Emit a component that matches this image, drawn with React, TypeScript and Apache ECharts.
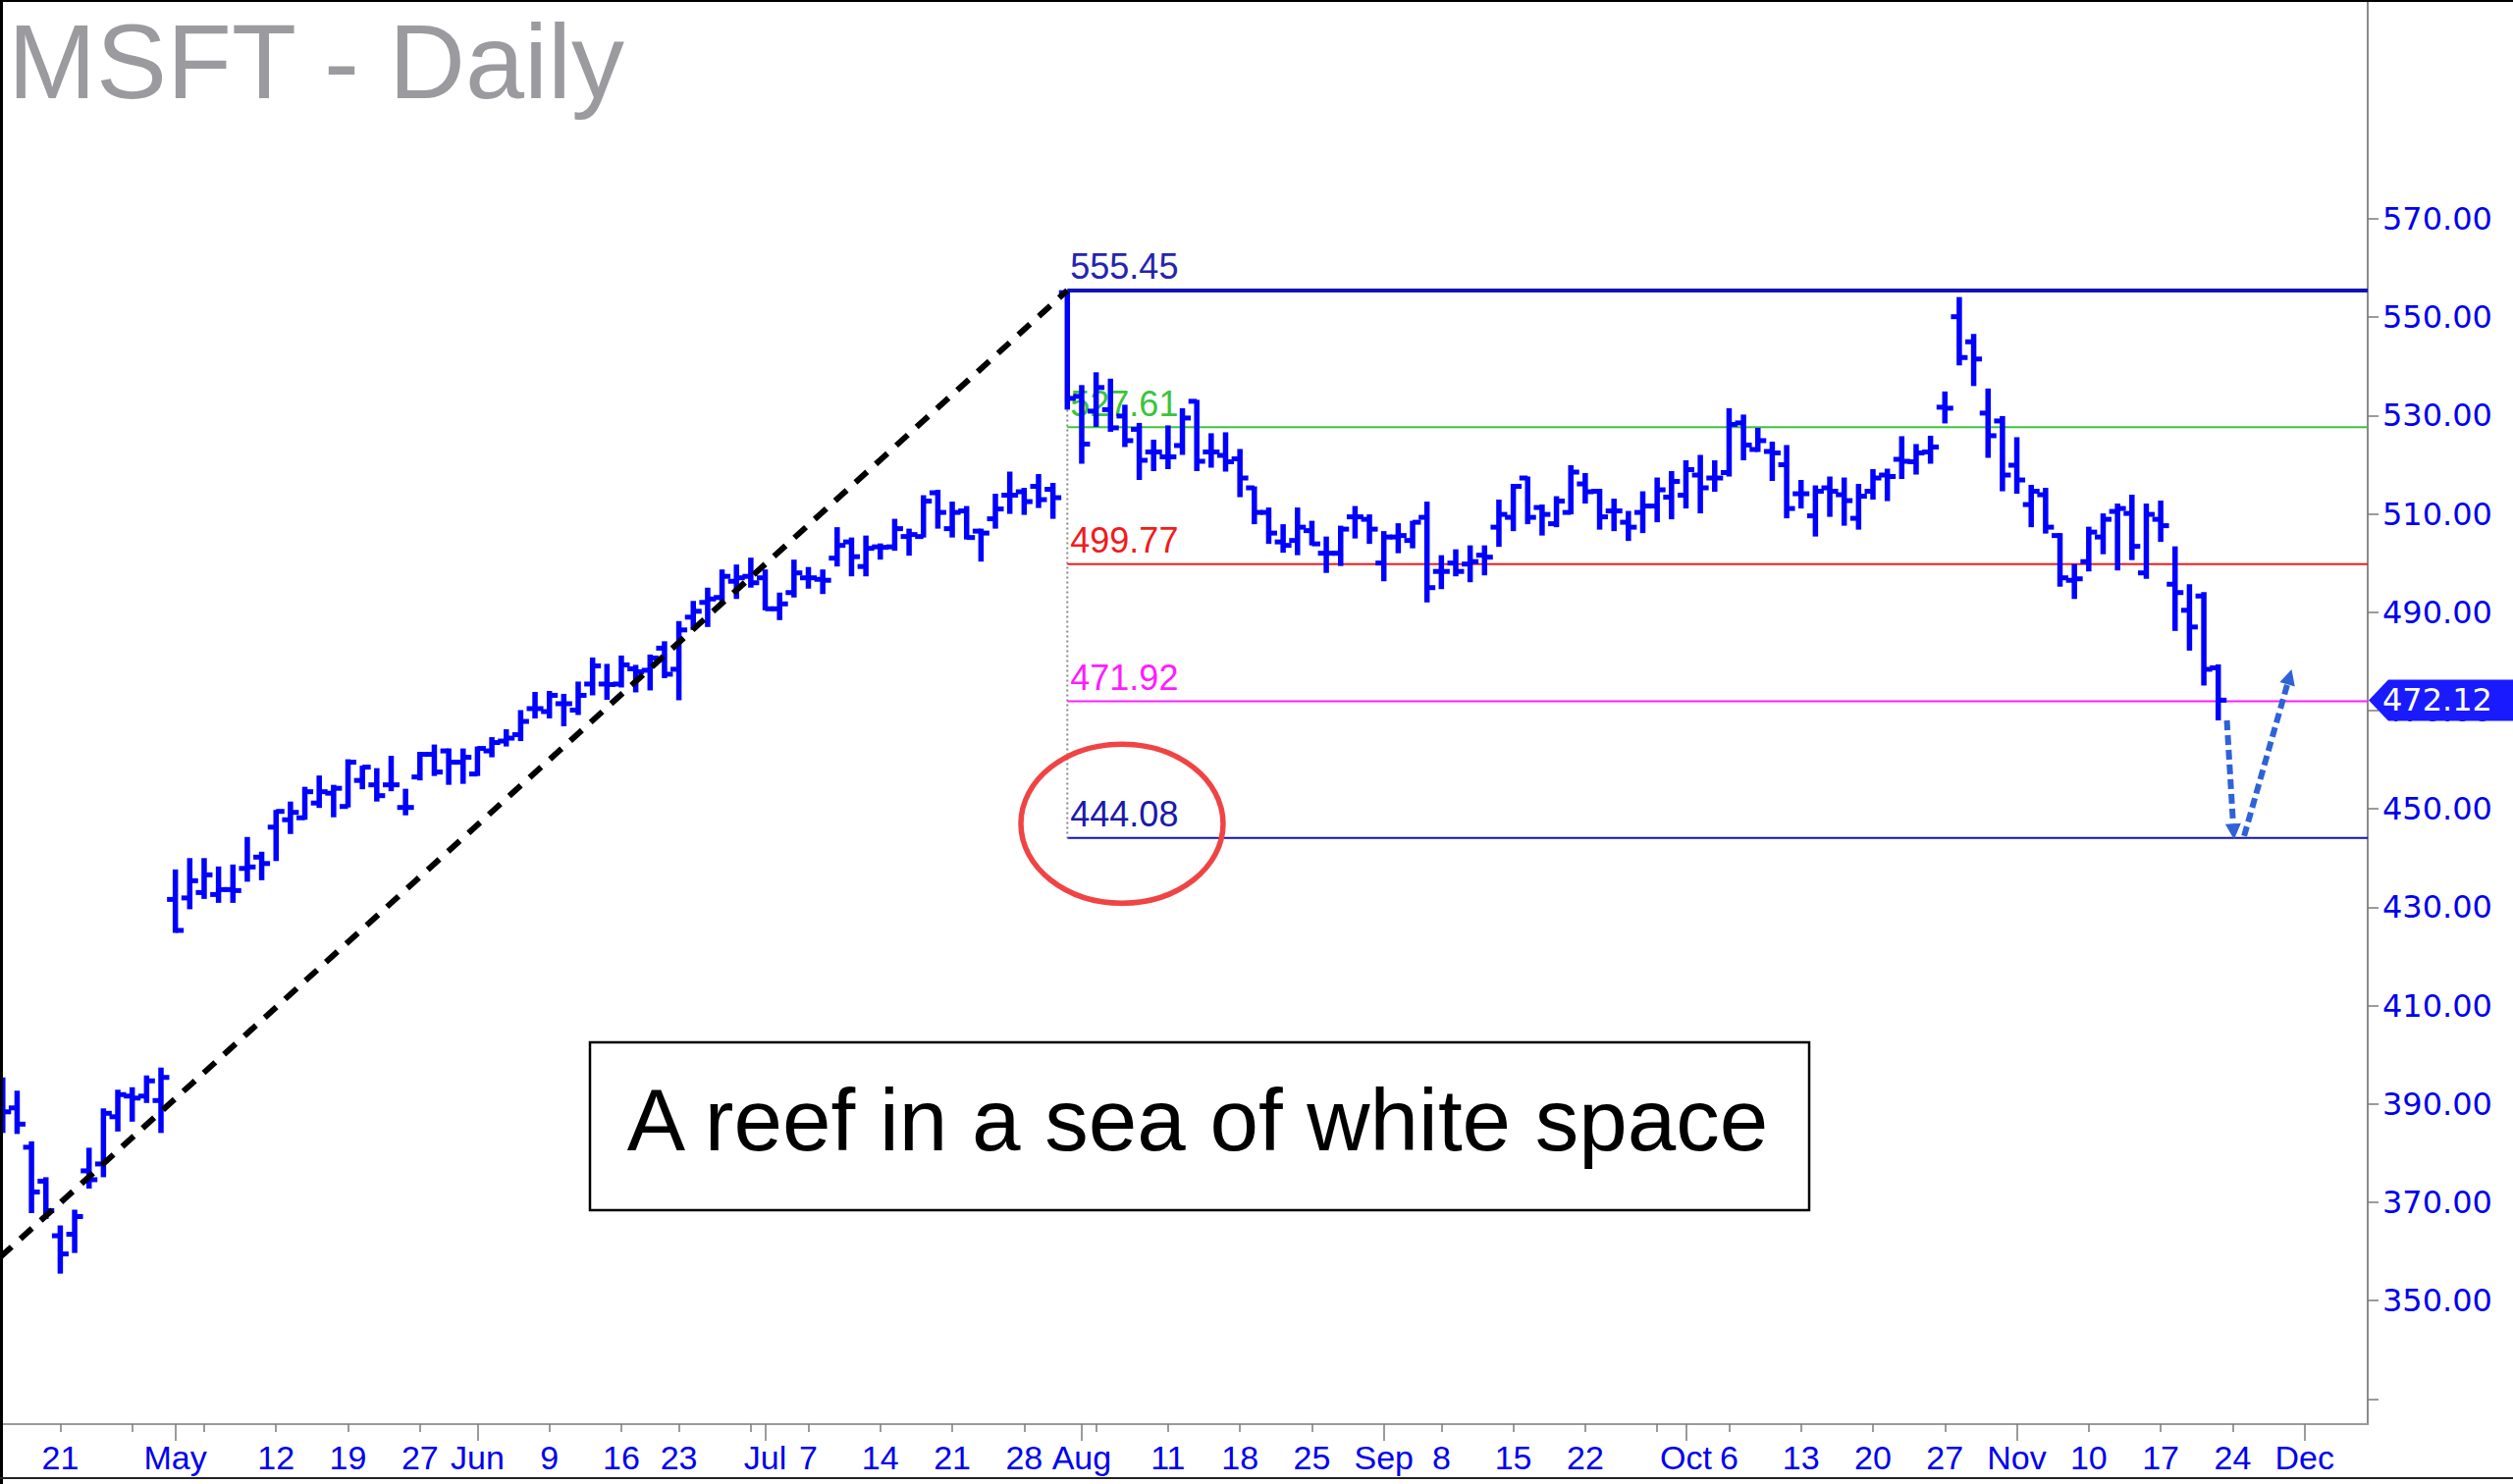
import React, { useEffect, useRef } from 'react';
import * as echarts from 'echarts';

// Trading-day numbering: Apr 21 2025 = 0 (holidays skipped). First bar = Apr 14 2025.
const FIRST_BAR_DAY = -4;

const opens = [
  393.0, 389.2, 381.2, 374.3, 363.2, 363.5, 376.4, 377.8, 387.4, 391.6, 391.6, 390.7,
  431.6, 431.9, 433.0, 432.6, 433.6, 437.9, 440.2, 446.3, 447.8, 448.2, 451.2, 453.2, 450.5, 455.8, 454.9, 454.9, 450.3, 456.5, 461.1, 461.8, 459.5, 457.1, 461.8, 463.8, 465.1, 470.4, 469.8, 471.4,
  470.1, 475.4, 475.4, 475.4, 478.5, 478.2, 482.7, 478.4, 489.0, 492.0, 493.0, 496.3, 497.3, 497.0, 490.7, 494.0, 497.0, 496.7, 501.0, 504.3, 499.3, 503.3, 503.3, 505.4, 505.4, 514.3, 507.0, 510.6, 506.5, 509.0, 513.8, 514.5, 515.6, 515.0,
  555.0, 533.9, 530.9, 531.2, 529.9, 527.2, 522.6, 521.6, 523.9, 532.9, 522.6, 521.9, 521.2, 515.3, 510.3, 504.3, 504.6, 506.6, 502.0, 502.0, 509.4, 508.9, 500.0, 505.3, 504.6, 509.3, 498.3, 500.0, 499.8, 501.6, 507.3, 509.3, 517.3, 511.3,
  508.0, 510.3, 516.1, 514.6, 510.6, 508.3, 510.3, 511.6, 513.4, 513.8, 517.9, 517.3, 518.4, 528.5, 523.1, 522.7, 520.0, 514.1, 509.6, 515.3, 513.9, 509.1, 514.6, 517.9, 521.1, 520.6, 522.6, 531.7, 550.1, 545.0, 530.5, 528.9, 519.9, 511.9, 513.9, 505.6, 496.5, 500.3, 505.3, 510.5, 510.1, 498.0, 508.9, 495.7, 490.4, 493.3, 478.7,
];
const highs = [
  395.4, 392.7, 382.4, 375.1, 365.3, 368.5, 381.1, 389.1, 392.9, 393.4, 395.8, 397.4,
  437.7, 440.0, 440.0, 438.3, 438.7, 444.3, 441.3, 449.8, 451.5, 454.5, 456.8, 454.9, 460.1, 458.8, 458.3, 460.8, 454.1, 461.6, 463.1, 462.3, 462.3, 462.7, 464.6, 466.2, 470.1, 473.8, 474.0, 473.4,
  475.9, 480.8, 479.5, 481.2, 479.3, 481.4, 484.1, 488.2, 492.3, 495.0, 498.7, 499.7, 501.1, 498.7, 494.0, 500.7, 499.2, 498.7, 507.3, 505.2, 505.6, 504.0, 509.0, 507.0, 513.8, 514.9, 512.5, 511.6, 507.0, 514.1, 518.6, 515.3, 518.1, 516.3,
  555.45, 536.2, 538.8, 537.5, 532.2, 528.5, 525.1, 528.0, 531.5, 533.2, 526.4, 526.6, 523.2, 515.6, 511.3, 507.9, 511.3, 508.6, 505.4, 507.6, 511.6, 509.9, 506.5, 508.1, 508.6, 512.5, 501.6, 502.8, 503.6, 503.6, 512.9, 516.1, 517.6, 511.9,
  513.6, 519.9, 518.3, 515.1, 513.1, 510.6, 514.6, 517.4, 518.7, 520.9, 522.0, 520.9, 531.5, 530.2, 527.5, 524.7, 524.0, 516.9, 515.8, 517.6, 517.4, 516.1, 519.1, 519.2, 525.8, 524.2, 525.9, 534.9, 554.1, 546.6, 535.5, 529.9, 525.6, 515.9, 515.3, 506.1, 499.8, 507.4, 510.1, 512.1, 513.9, 512.1, 512.7, 503.4, 495.7, 494.1, 479.4,
];
const lows = [
  384.1, 383.9, 367.8, 366.6, 355.5, 359.7, 372.8, 375.1, 384.4, 386.4, 390.2, 384.1,
  424.8, 429.6, 431.7, 430.9, 430.9, 435.2, 435.5, 439.4, 444.9, 447.8, 450.2, 448.3, 450.3, 454.0, 451.5, 453.6, 448.7, 455.8, 456.7, 454.9, 455.1, 456.7, 460.5, 462.7, 463.8, 468.4, 468.4, 466.8,
  469.1, 473.1, 472.2, 474.7, 473.7, 474.1, 476.6, 472.1, 486.4, 487.0, 492.0, 492.7, 495.0, 490.4, 488.4, 493.0, 494.8, 493.7, 499.3, 497.3, 497.3, 500.7, 502.5, 501.5, 505.2, 507.0, 505.2, 504.8, 500.3, 507.0, 510.0, 509.8, 511.2, 509.0,
  531.2, 520.2, 527.7, 526.7, 523.6, 516.9, 518.7, 519.1, 522.0, 518.7, 519.4, 518.6, 513.4, 507.9, 503.9, 502.1, 501.6, 503.6, 498.0, 499.4, 505.0, 503.9, 496.3, 502.0, 503.0, 492.0, 494.7, 497.3, 496.1, 497.5, 503.3, 506.5, 507.9, 505.6,
  507.3, 509.9, 512.1, 506.8, 506.5, 504.5, 506.1, 508.3, 508.9, 511.1, 510.1, 514.5, 517.6, 520.9, 522.6, 516.7, 509.1, 511.1, 505.4, 509.4, 507.6, 506.8, 512.9, 512.6, 517.1, 518.0, 520.2, 528.4, 540.2, 536.0, 521.4, 514.6, 514.1, 507.3, 506.0, 495.2, 492.7, 498.3, 501.8, 498.5, 500.6, 496.8, 504.3, 486.2, 482.2, 475.1, 468.0,
];
const closes = [
  388.4, 385.9, 372.1, 368.3, 359.5, 367.1, 374.6, 388.1, 391.9, 391.2, 394.7, 395.4,
  425.3, 435.4, 436.6, 433.6, 433.4, 438.2, 438.9, 449.5, 449.3, 453.5, 453.5, 454.2, 459.5, 458.5, 452.7, 454.9, 450.3, 461.1, 457.5, 459.5, 460.5, 462.3, 463.5, 464.4, 467.8, 470.4, 473.1, 471.4,
  473.1, 479.1, 475.3, 479.3, 477.9, 480.7, 477.4, 486.4, 490.2, 492.7, 497.3, 497.0, 496.0, 490.7, 491.7, 498.0, 497.0, 496.5, 503.6, 501.3, 503.0, 503.2, 507.0, 505.8, 512.6, 510.3, 510.3, 505.2, 506.1, 511.0, 513.8, 512.5, 512.9, 513.3,
  533.5, 524.2, 535.7, 527.5, 524.9, 520.9, 522.6, 521.6, 529.5, 520.7, 522.6, 520.6, 517.3, 510.3, 506.1, 503.6, 507.3, 503.9, 502.0, 506.9, 509.4, 506.9, 505.3, 505.6, 508.3, 495.0, 498.3, 498.3, 500.3, 501.2, 509.9, 515.6, 509.3, 509.9,
  512.6, 518.5, 514.5, 509.4, 510.6, 507.3, 511.6, 514.9, 516.6, 519.0, 515.3, 517.3, 528.2, 524.0, 524.9, 522.4, 511.1, 514.1, 514.6, 514.6, 512.7, 513.6, 517.3, 517.6, 520.7, 522.4, 523.6, 531.5, 541.8, 541.5, 525.9, 517.9, 516.9, 514.6, 507.3, 497.0, 496.8, 506.3, 508.9, 511.1, 503.4, 509.9, 507.6, 494.0, 487.0, 478.4, 472.12,
];

// x-axis ticks (trading-day numbers) and their labels
const weekTickDays = [0, 5, 10, 15, 20, 25, 34, 39, 43, 48, 52, 57, 62, 67, 72, 77, 82, 87, 96, 101, 106, 111, 116, 121, 126, 131, 141, 146, 151];
const weekTickLabels = ['21', '', '', '12', '19', '27', '9', '16', '23', '', '7', '14', '21', '28', '', '11', '18', '25', '8', '15', '22', '', '6', '13', '20', '27', '10', '17', '24'];
const monthTickDays = [8, 29, 49, 71, 92, 113, 136, 156];
const monthTickLabels = ['May', 'Jun', 'Jul', 'Aug', 'Sep', 'Oct', 'Nov', 'Dec'];

// y-axis ticks / labels
const priceTicks = [330, 350, 370, 390, 410, 430, 450, 470, 490, 510, 530, 550, 570];
const priceLabels = [350, 370, 390, 410, 430, 450, 470, 490, 510, 530, 550, 570];

// annotation levels
const levelPrices = [555.45, 527.61, 499.77, 471.92, 444.08];
const levelLineColors = ['#1212b8', '#3cc43c', '#f01c1c', '#ff1cff', '#1212b8'];
const levelTextColors = ['#2424b0', '#3cc43c', '#f01c1c', '#ff1cff', '#1a1aa8'];
const levelWidths = [4, 2, 2, 2, 2];
const levelStartDay = 70;
const lastPrice = 472.12;
const trendStart = [-4.19, 358.8];
const trendEnd = [70, 555.45];
const arrowDown = [[150.6, 468.0], [151.1, 443.8]];
const arrowUp = [[151.8, 444.5], [155.1, 478.4]];
const circleCenter = [73.8, 447.0];

const X_MIN = -4.19;
const X_MAX = 160.39;
const Y_MIN = 324.89;
const Y_MAX = 614.51;

const BAR_COLOR = '#0000ff';
const FONT = '"Liberation Sans", Arial, Helvetica, sans-serif';
const WIDE_FONT = '"DejaVu Sans", Verdana, sans-serif';

function arrowParts(p1: number[], p2: number[], color: string) {
  const dx = p2[0] - p1[0];
  const dy = p2[1] - p1[1];
  const len = Math.hypot(dx, dy) || 1;
  const ux = dx / len;
  const uy = dy / len;
  const head = 16;
  const half = 8;
  const bx = p2[0] - ux * head;
  const by = p2[1] - uy * head;
  return [
    { type: 'line', shape: { x1: p1[0], y1: p1[1], x2: bx, y2: by }, style: { stroke: color, lineWidth: 6, lineDash: [10, 5] } },
    {
      type: 'polygon',
      shape: { points: [[p2[0], p2[1]], [bx - uy * half, by + ux * half], [bx + uy * half, by - ux * half]] },
      style: { fill: color },
    },
  ];
}

export default function App() {
  const ref = useRef<HTMLDivElement>(null);

  useEffect(() => {
    if (!ref.current) return;
    const chart = echarts.init(ref.current, undefined, { renderer: 'svg' });

    const barData = opens.map((o, i) => [FIRST_BAR_DAY + i, o, highs[i], lows[i], closes[i]]);

    const renderBar = (params: any, api: any) => {
      const x = api.value(0);
      const pO = api.coord([x, api.value(1)]);
      const pH = api.coord([x, api.value(2)]);
      const pL = api.coord([x, api.value(3)]);
      const pC = api.coord([x, api.value(4)]);
      const tick = 8.5;
      const w = 5.5;
      return {
        type: 'group',
        children: [
          { type: 'line', shape: { x1: pH[0], y1: pH[1], x2: pL[0], y2: pL[1] }, style: { stroke: BAR_COLOR, lineWidth: w } },
          { type: 'line', shape: { x1: pO[0] - tick, y1: pO[1], x2: pO[0], y2: pO[1] }, style: { stroke: BAR_COLOR, lineWidth: 5 } },
          { type: 'line', shape: { x1: pC[0], y1: pC[1], x2: pC[0] + tick, y2: pC[1] }, style: { stroke: BAR_COLOR, lineWidth: 5 } },
        ],
      };
    };

    const renderLevels = (params: any, api: any) => {
      if (params.dataIndex !== 0) return null;
      const children: any[] = [];
      levelPrices.forEach((p, i) => {
        const a = api.coord([levelStartDay, p]);
        const b = api.coord([X_MAX, p]);
        children.push({
          type: 'line',
          shape: { x1: a[0], y1: a[1], x2: b[0], y2: b[1] },
          style: { stroke: levelLineColors[i], lineWidth: levelWidths[i] },
        });
        children.push({
          type: 'text',
          x: a[0] + 3,
          y: a[1] - 24,
          style: {
            text: p.toFixed(2),
            fill: levelTextColors[i],
            fontSize: 36,
            fontFamily: FONT,
            align: 'left',
            verticalAlign: 'middle',
          },
        });
      });
      // dotted vertical from the bar low down to the lowest level
      const top = api.coord([levelStartDay, lows[levelStartDay - FIRST_BAR_DAY]]);
      const bot = api.coord([levelStartDay, levelPrices[levelPrices.length - 1]]);
      children.push({
        type: 'line',
        shape: { x1: top[0], y1: top[1], x2: bot[0], y2: bot[1] },
        style: { stroke: '#8a8a8a', lineWidth: 2, lineDash: [2, 3] },
      });
      return { type: 'group', children };
    };

    const renderOverlay = (params: any, api: any) => {
      if (params.dataIndex !== 0) return null;
      const children: any[] = [];
      const t1 = api.coord(trendStart);
      const t2 = api.coord(trendEnd);
      children.push({
        type: 'line',
        shape: { x1: t1[0], y1: t1[1], x2: t2[0], y2: t2[1] },
        style: { stroke: '#000000', lineWidth: 6, lineDash: [16, 12] },
      });
      const arrowColor = '#2f62d8';
      children.push(...arrowParts(api.coord(arrowDown[0]), api.coord(arrowDown[1]), arrowColor));
      children.push(...arrowParts(api.coord(arrowUp[0]), api.coord(arrowUp[1]), arrowColor));
      const c = api.coord(circleCenter);
      children.push({
        type: 'ellipse',
        shape: { cx: c[0], cy: c[1], rx: 103, ry: 81 },
        style: { fill: 'none', stroke: '#f04444', lineWidth: 5.5 },
      });
      // last price tag on the axis
      const tp = api.coord([X_MAX, lastPrice]);
      const x0 = tp[0] + 1;
      const y0 = tp[1];
      children.push({
        type: 'polygon',
        shape: { points: [[x0, y0], [x0 + 20, y0 - 21], [x0 + 160, y0 - 21], [x0 + 160, y0 + 21], [x0 + 20, y0 + 21]] },
        style: { fill: '#1a1aff' },
      });
      children.push({
        type: 'text',
        x: x0 + 14,
        y: y0,
        style: { text: lastPrice.toFixed(2), fill: '#ffffff', fontSize: 32, fontFamily: WIDE_FONT, align: 'left', verticalAlign: 'middle' },
      });
      return { type: 'group', children };
    };

    const weekLabelFor = (v: number) => {
      const k = weekTickDays.indexOf(Math.round(v));
      return k >= 0 ? weekTickLabels[k] : '';
    };
    const monthLabelFor = (v: number) => {
      const k = monthTickDays.indexOf(Math.round(v));
      return k >= 0 ? monthTickLabels[k] : '';
    };

    const xLabelStyle = { color: '#0000ee', fontSize: 34, fontFamily: FONT, margin: 17 };

    const option: any = {
      animation: false,
      backgroundColor: '#ffffff',
      grid: { left: 0, right: 148, top: 0, bottom: 61, containLabel: false },
      xAxis: [
        {
          type: 'value',
          min: X_MIN,
          max: X_MAX,
          position: 'bottom',
          axisLine: { show: true, onZero: false, lineStyle: { color: '#9a9a9a', width: 2 } },
          axisTick: { show: true, customValues: weekTickDays, length: 8, lineStyle: { color: '#7a7a7a', width: 1.5 } },
          axisLabel: { ...xLabelStyle, customValues: weekTickDays.filter((d, i) => weekTickLabels[i] !== ''), formatter: weekLabelFor },
          splitLine: { show: false },
        },
        {
          type: 'value',
          min: X_MIN,
          max: X_MAX,
          position: 'bottom',
          axisLine: { show: false, onZero: false },
          axisTick: { show: true, customValues: monthTickDays, length: 17, lineStyle: { color: '#7a7a7a', width: 1.5 } },
          axisLabel: { ...xLabelStyle, customValues: monthTickDays, formatter: monthLabelFor },
          splitLine: { show: false },
        },
      ],
      yAxis: {
        type: 'value',
        position: 'right',
        min: Y_MIN,
        max: Y_MAX,
        axisLine: { show: true, onZero: false, lineStyle: { color: '#8a8a8a', width: 2 } },
        axisTick: { show: true, customValues: priceTicks, length: 11, lineStyle: { color: '#7a7a7a', width: 1.5 } },
        axisLabel: {
          customValues: priceLabels,
          formatter: (v: number) => v.toFixed(2),
          color: '#0000ee',
          fontSize: 32,
          fontFamily: WIDE_FONT,
          margin: 15,
        },
        splitLine: { show: false },
      },
      series: [
        {
          type: 'custom',
          name: 'levels',
          xAxisIndex: 0,
          yAxisIndex: 0,
          renderItem: renderLevels,
          data: [[levelStartDay, levelPrices[0]]],
          clip: false,
          z: 1,
          silent: true,
        },
        {
          type: 'custom',
          name: 'MSFT',
          xAxisIndex: 0,
          yAxisIndex: 0,
          renderItem: renderBar,
          encode: { x: 0, y: [1, 2, 3, 4] },
          data: barData,
          clip: false,
          z: 2,
        },
        {
          type: 'custom',
          name: 'overlay',
          xAxisIndex: 0,
          yAxisIndex: 0,
          renderItem: renderOverlay,
          data: [[trendEnd[0], trendEnd[1]]],
          clip: false,
          z: 3,
          silent: true,
        },
      ],
      graphic: [
        {
          type: 'text',
          left: 8,
          top: 8,
          style: { text: 'MSFT - Daily', fill: '#9b9b9f', fontSize: 108, fontFamily: FONT },
          z: 10,
        },
        {
          type: 'rect',
          shape: { x: 601, y: 1062, width: 1242, height: 171 },
          style: { fill: '#ffffff', stroke: '#000000', lineWidth: 2.5 },
          z: 10,
        },
        {
          type: 'text',
          x: 1220,
          y: 1141,
          style: { text: 'A reef in a sea of white space', fill: '#000000', fontSize: 89, fontFamily: FONT, align: 'center', verticalAlign: 'middle' },
          z: 11,
        },
        { type: 'line', shape: { x1: 1.5, y1: 0, x2: 1.5, y2: 1512 }, style: { stroke: '#000000', lineWidth: 3 }, z: 12 },
        { type: 'line', shape: { x1: 0, y1: 1, x2: 2560, y2: 1 }, style: { stroke: '#000000', lineWidth: 2 }, z: 12 },
        { type: 'line', shape: { x1: 0, y1: 1506, x2: 2560, y2: 1506 }, style: { stroke: '#222222', lineWidth: 2 }, z: 12 },
      ],
    };

    chart.setOption(option);
    return () => chart.dispose();
  }, []);

  return <div ref={ref} style={{ position: 'absolute', left: 0, top: 0, width: 2560, height: 1512 }} />;
}
